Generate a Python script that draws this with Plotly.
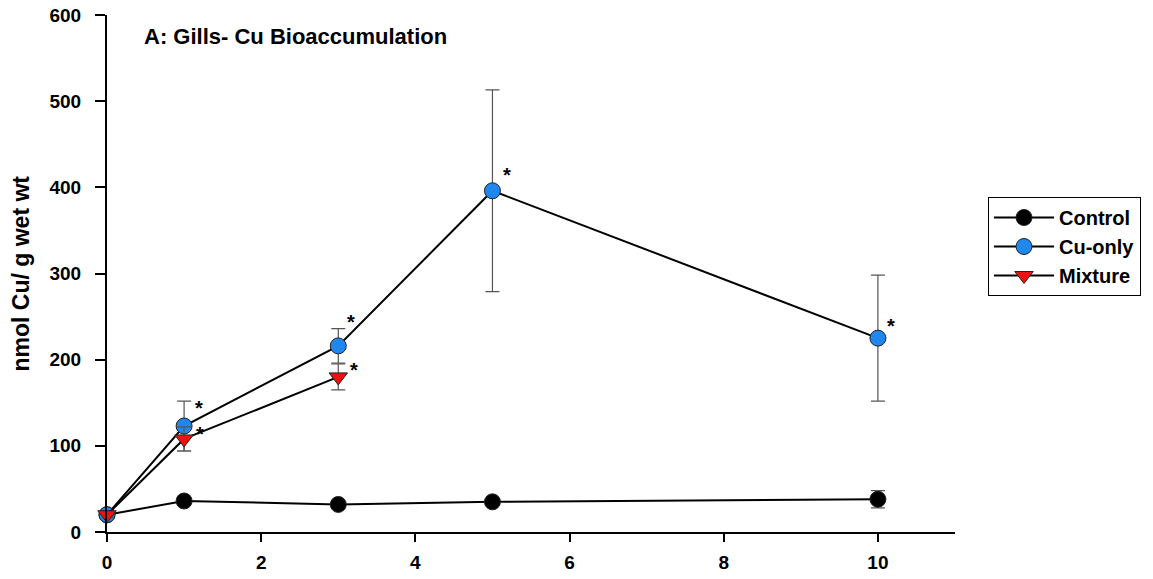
import plotly.graph_objects as go

days = [0, 1, 3, 5, 10]
control = [20, 36, 32, 35, 38]
control_err = [3, 4, 3, 4, 10]
cu_days = [0, 1, 3, 5, 10]
cu_only = [20, 123, 216, 396, 225]
cu_err = [3, 29, 20, 117, 73]
mix_days = [0, 1, 3]
mixture = [20, 108, 180]
mix_err = [3, 14, 15]

# significance stars: (x, y, xshift, yshift)
star_pts = [(1, 123, 15, 18), (1, 108, 16, 5), (3, 216, 13, 24), (3, 180, 16, 7), (5, 396, 15, 16), (10, 225, 13, 12)]

font = "Liberation Sans, Arial, sans-serif"
fig = go.Figure()

def add(name, x, y, err, color, symbol):
    fig.add_trace(go.Scatter(
        x=x, y=y, name=name, mode="lines+markers",
        line=dict(color="black", width=2),
        marker=dict(symbol=symbol, size=16, color=color, line=dict(color="#222", width=1)),
        error_y=dict(type="data", array=err, visible=True, color="#555", thickness=1.2, width=7),
        cliponaxis=False,
    ))

add("Control", days, control, control_err, "black", "circle")
add("Cu-only", cu_days, cu_only, cu_err, "#1f87ee", "circle")
add("Mixture", mix_days, mixture, mix_err, "#ee1111", "triangle-down")

for (x, y, dx, dy) in star_pts:
    fig.add_annotation(x=x, y=y, text="<b>*</b>", showarrow=False, xshift=dx, yshift=dy,
                       font=dict(family=font, size=20, color="black"))

fig.add_annotation(xref="paper", yref="paper", x=(142 - 107) / 517 * 0 + (142 - 107) / 848, y=(532 - 36) / 517,
                   xanchor="left", yanchor="middle", showarrow=False,
                   text="<b>A: Gills- Cu Bioaccumulation</b>",
                   font=dict(family=font, size=22, color="black"))

# y-axis title as rotated annotation
fig.add_annotation(xref="paper", yref="paper", x=(20 - 107) / 848, y=0.5,
                   xanchor="center", yanchor="middle", showarrow=False, textangle=-90,
                   text="<b>nmol Cu/ g wet wt</b>",
                   font=dict(family=font, size=23, color="black"))

fig.update_layout(
    width=1153, height=579,
    margin=dict(l=107, r=198, t=15, b=47, autoexpand=False),
    plot_bgcolor="white", paper_bgcolor="white",
    font=dict(family=font, color="black"),
    legend=dict(x=(988 - 107) / 848, y=(532 - 197) / 517, xanchor="left", yanchor="top",
                bordercolor="black", borderwidth=1,
                font=dict(family=font, size=20, color="black", weight="bold"),
                itemwidth=60, tracegroupgap=0),
    xaxis=dict(range=[0, 11], tickvals=[0, 2, 4, 6, 8, 10], showgrid=False, zeroline=False,
               showline=True, linecolor="black", linewidth=2, ticks="outside", ticklen=8,
               tickwidth=1.5, tickcolor="black", automargin=False, ticklabelstandoff=4,
               tickfont=dict(family=font, size=19, weight="bold")),
    yaxis=dict(range=[0, 600], tickvals=[0, 100, 200, 300, 400, 500, 600], showgrid=False,
               zeroline=False, showline=True, linecolor="black", linewidth=2,
               ticks="outside", ticklen=10, tickwidth=1.5, tickcolor="black",
               automargin=False, ticklabelstandoff=10,
               tickfont=dict(family=font, size=19, weight="bold")),
    showlegend=True,
)

fig.write_html("out.html")
